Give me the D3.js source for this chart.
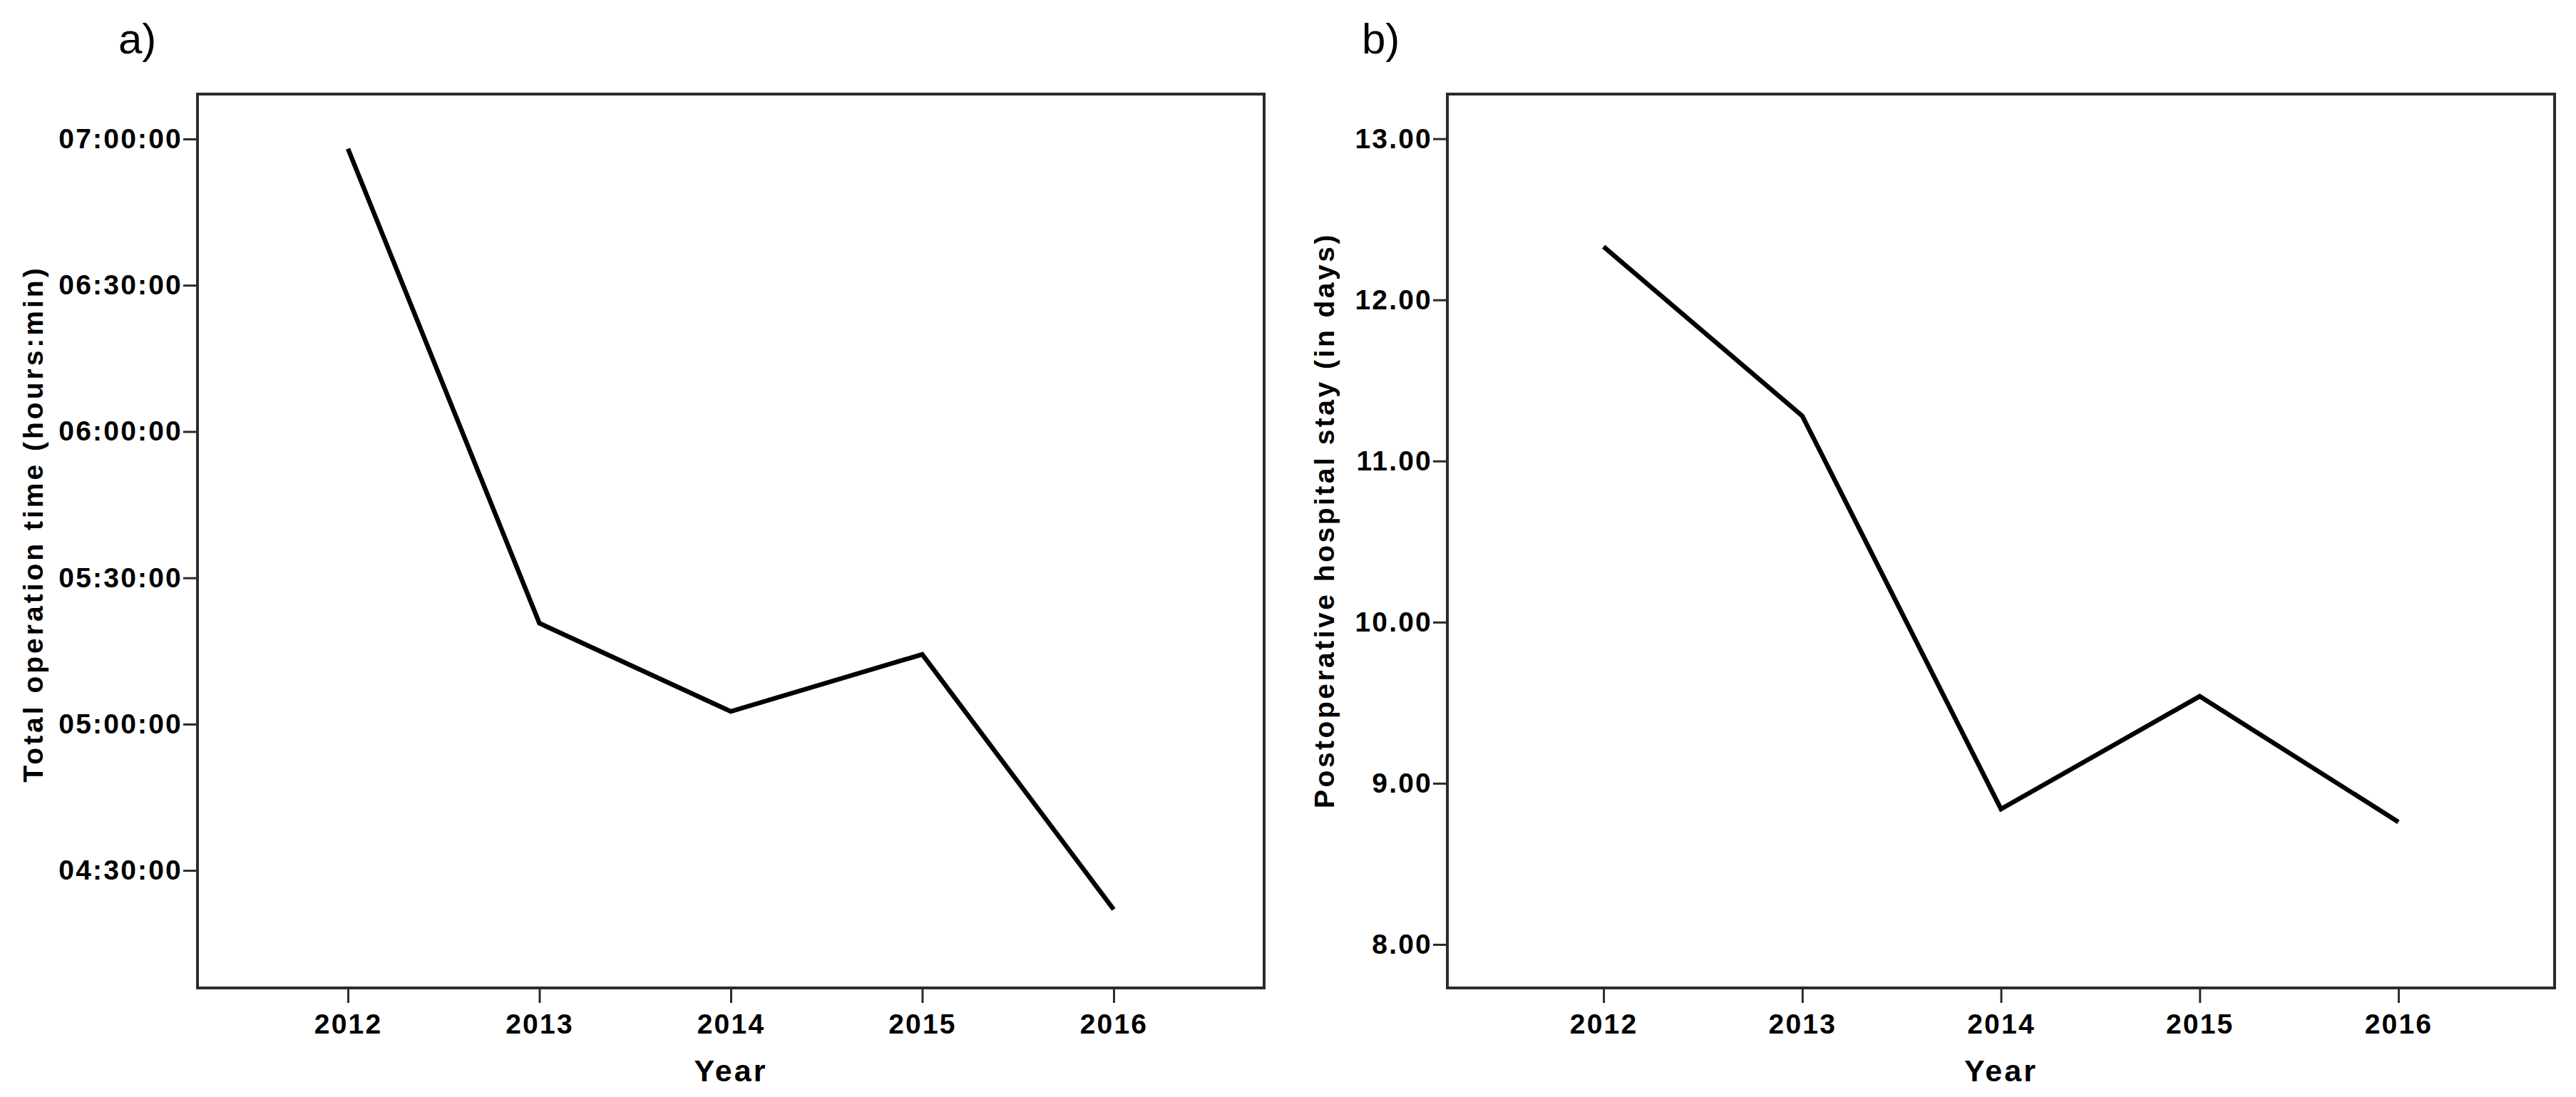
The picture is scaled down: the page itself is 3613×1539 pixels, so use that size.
<!DOCTYPE html>
<html>
<head>
<meta charset="utf-8">
<script src="https://cdn.jsdelivr.net/npm/d3@7"></script>
<style>
  body { margin: 0; background: #fff; }
  text { font-family: "Liberation Sans", Arial, sans-serif; fill: #000; }
</style>
</head>
<body>
<script>
var years = [2012, 2013, 2014, 2015, 2016];
// operation time in minutes
var opTime = [418, 320.7, 302.6, 314.3, 262];
var opTicks = [270, 300, 330, 360, 390, 420];
var stayDays = [12.33, 11.28, 8.84, 9.54, 8.76];
var stayTicks = [8, 9, 10, 11, 12, 13];

var W = 3613, H = 1539;
var svg = d3.select("body").append("svg")
    .attr("width", W)
    .attr("height", H);

function fmtTime(m) {
    var h = Math.floor(m / 60), mm = Math.round(m % 60);
    return (h < 10 ? "0" : "") + h + ":" + (mm < 10 ? "0" : "") + mm + ":00";
}

function panel(o) {
    var g = svg.append("g");
    var x = d3.scaleLinear().domain([2011.214, 2016.786]).range([o.x0, o.x1]);
    var y = d3.scaleLinear().domain(o.ydomain).range([1386, 132]);

    g.append("rect")
        .attr("x", o.x0).attr("y", 132)
        .attr("width", o.x1 - o.x0).attr("height", 1386 - 132)
        .attr("fill", "none").attr("stroke", "#2b2b2b").attr("stroke-width", 4);

    var yAxis = d3.axisLeft(y).tickValues(o.yticks).tickSize(20).tickPadding(1).tickFormat(o.fmt);
    var ya = g.append("g").attr("transform", "translate(" + o.x0 + ",0)").call(yAxis);

    var xAxis = d3.axisBottom(x).tickValues(years).tickSize(21).tickPadding(15).tickFormat(d3.format("d"));
    var xa = g.append("g").attr("transform", "translate(0,1386)").call(xAxis);

    [ya, xa].forEach(function(a) {
        a.select(".domain").remove();
        a.selectAll(".tick line").attr("stroke", "#2b2b2b").attr("stroke-width", 3);
        a.selectAll(".tick text")
            .style("font-family", "'Liberation Sans', Arial, sans-serif")
            .style("font-weight", "bold")
            .style("font-size", "39px")
            .style("letter-spacing", "2.2px")
            .attr("fill", "#000");
    });

    var line = d3.line()
        .x(function(d, i) { return x(years[i]); })
        .y(function(d) { return y(d); });
    g.append("path")
        .datum(o.values)
        .attr("fill", "none")
        .attr("stroke", "#000")
        .attr("stroke-width", 6.5)
        .attr("stroke-linejoin", "miter")
        .attr("d", line);

    g.append("text")
        .attr("x", (o.x0 + o.x1) / 2).attr("y", 1517)
        .attr("text-anchor", "middle")
        .style("font-weight", "bold").style("font-size", "43px").style("letter-spacing", "3px")
        .text("Year");

    g.append("text")
        .attr("transform", "translate(" + o.tx + "," + o.ty + ") rotate(-90)")
        .attr("text-anchor", "middle")
        .attr("dy", "0.35em")
        .style("font-weight", "bold").style("font-size", "39px").style("letter-spacing", o.ls)
        .text(o.title);

    g.append("text")
        .attr("x", o.lx).attr("y", 75)
        .style("font-size", "60px")
        .text(o.letter);
}

panel({
    x0: 277, x1: 1773,
    ydomain: [245.9, 429.2], yticks: opTicks, fmt: fmtTime,
    values: opTime,
    title: "Total operation time (hours:min)", tx: 46, ty: 735, ls: "4px",
    letter: "a)", lx: 166
});

panel({
    x0: 2030, x1: 3583,
    ydomain: [7.73, 13.277], yticks: stayTicks, fmt: d3.format(".2f"),
    values: stayDays,
    title: "Postoperative hospital stay (in days)", tx: 1857, ty: 730, ls: "3.5px",
    letter: "b)", lx: 1910
});
</script>
</body>
</html>
